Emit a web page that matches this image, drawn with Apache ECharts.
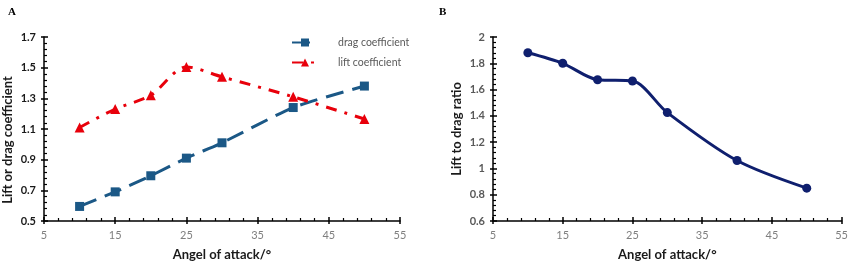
<!DOCTYPE html>
<html>
<head>
<meta charset="utf-8">
<script src="https://cdn.jsdelivr.net/npm/echarts@6/dist/echarts.min.js"></script>
<style>
  html, body { margin: 0; padding: 0; background: #fff; }
  #chart { width: 851px; height: 266px; }
</style>
</head>
<body>
<div id="chart"></div>
<script>
var angles = [10, 15, 20, 25, 30, 40, 50];
var dragCoef = [0.595, 0.69, 0.795, 0.91, 1.01, 1.24, 1.38];
var liftCoef = [1.11, 1.23, 1.32, 1.505, 1.44, 1.31, 1.165];
var liftDragRatio = [1.88, 1.80, 1.675, 1.665, 1.425, 1.06, 0.85];

function pairs(xs, ys) {
  var out = [];
  for (var i = 0; i < xs.length; i++) out.push([xs[i], ys[i]]);
  return out;
}

var fontFam = 'Lato, "Open Sans", sans-serif';

function mainX(gridIdx) {
  return {
    type: 'value', gridIndex: gridIdx, position: 'bottom', min: 5, max: 55, interval: 10,
    name: 'Angel of attack/°', nameLocation: 'middle', nameGap: 27,
    nameTextStyle: { fontFamily: fontFam, fontWeight: 'bold', fontSize: 13, color: '#1a1a1a' },
    axisLine: { lineStyle: { color: '#000', width: 1.5 } },
    axisTick: { show: true, inside: true, length: 4, lineStyle: { color: '#000', width: 1.5 } },
    minorTick: { show: true, splitNumber: 5, length: 3, lineStyle: { color: '#000', width: 1.2 } },
    axisLabel: { fontFamily: fontFam, fontSize: 11, color: '#7f7f7f', margin: 9 },
    splitLine: { show: false }
  };
}
function outerX(gridIdx) {
  return {
    type: 'value', gridIndex: gridIdx, position: 'bottom', offset: 0, min: 5, max: 55, interval: 10,
    axisLine: { show: false },
    axisTick: { show: true, inside: false, length: 3, lineStyle: { color: '#000', width: 1.5 } },
    axisLabel: { show: false }, splitLine: { show: false }
  };
}
function mainY(gridIdx, min, max, name, gap, labelColor, pad) {
  return {
    type: 'value', gridIndex: gridIdx, position: 'left', min: min, max: max, interval: 0.2,
    name: '{n|' + name + '}', nameLocation: 'middle', nameGap: gap,
    nameTextStyle: {
      fontFamily: fontFam, fontWeight: 'bold', fontSize: 13, color: '#1a1a1a',
      rich: { n: { fontFamily: fontFam, fontWeight: 'bold', fontSize: 13, color: '#1a1a1a', padding: pad } }
    },
    axisLine: { show: true, lineStyle: { color: '#000', width: 1.5 } },
    axisTick: { show: true, inside: true, length: 4, lineStyle: { color: '#000', width: 1.5 } },
    minorTick: { show: true, splitNumber: 5, length: 3, lineStyle: { color: '#000', width: 1.2 } },
    axisLabel: { fontFamily: fontFam, fontSize: 11, fontWeight: 'bold', color: labelColor, margin: 8 },
    splitLine: { show: false }
  };
}
function outerY(gridIdx, min, max) {
  return {
    type: 'value', gridIndex: gridIdx, position: 'left', offset: 0, min: min, max: max, interval: 0.2,
    axisLine: { show: false },
    axisTick: { show: true, inside: false, length: 3, lineStyle: { color: '#000', width: 1.5 } },
    axisLabel: { show: false }, splitLine: { show: false }
  };
}

var myChart = echarts.init(document.getElementById('chart'));
var option = {
  backgroundColor: '#fff',
  animation: false,
  title: [
    { text: 'A', left: 3, top: 2, textStyle: { fontFamily: '"Liberation Serif", serif', fontWeight: 'bold', fontSize: 11, color: '#000' } },
    { text: 'B', left: 434, top: 2, textStyle: { fontFamily: '"Liberation Serif", serif', fontWeight: 'bold', fontSize: 11, color: '#000' } }
  ],
  legend: {
    orient: 'vertical', left: 286, top: 32, itemGap: 9,
    itemWidth: 26, itemHeight: 10,
    formatter: function (name) { return '{t|' + name + '}'; },
    textStyle: {
      fontFamily: fontFam, fontSize: 10.5, color: '#595959',
      rich: { t: { fontFamily: fontFam, fontSize: 10.5, color: '#595959', padding: [0, 0, 0, 15] } }
    },
    data: ['drag coefficient', 'lift coefficient']
  },
  grid: [
    { left: 43, top: 37, width: 357, height: 189 },
    { left: 493, top: 37, width: 352, height: 185 }
  ],
  xAxis: [mainX(0), outerX(0), mainX(1), outerX(1)],
  yAxis: [
    mainY(0, 0.5, 1.7, 'Lift or drag coefficient', 30, '#1a1a1a', [0, 22, 0, 0]),
    outerY(0, 0.5, 1.7),
    mainY(1, 0.6, 2, 'Lift to drag ratio', 30, '#595959', 0),
    outerY(1, 0.6, 2)
  ],
  series: [
    {
      name: 'drag coefficient', type: 'line', xAxisIndex: 0, yAxisIndex: 0,
      data: pairs(angles, dragCoef), smooth: 0.2,
      symbol: 'rect', symbolSize: 9,
      itemStyle: { color: '#1b5886' },
      lineStyle: { color: '#1b5886', width: 3, type: [18, 9] }
    },
    {
      name: 'lift coefficient', type: 'line', xAxisIndex: 0, yAxisIndex: 0,
      data: pairs(angles, liftCoef), smooth: 0.3,
      symbol: 'triangle', symbolSize: 10,
      itemStyle: { color: '#e8000b' },
      lineStyle: { color: '#e8000b', width: 3, type: [11, 8, 3, 8] }
    },
    {
      name: 'ratio', type: 'line', xAxisIndex: 2, yAxisIndex: 2,
      data: pairs(angles, liftDragRatio), smooth: 0.3,
      symbol: 'circle', symbolSize: 9,
      itemStyle: { color: '#0f1f6e' },
      lineStyle: { color: '#0f1f6e', width: 3 }
    }
  ]
};
myChart.setOption(option);
</script>
</body>
</html>
